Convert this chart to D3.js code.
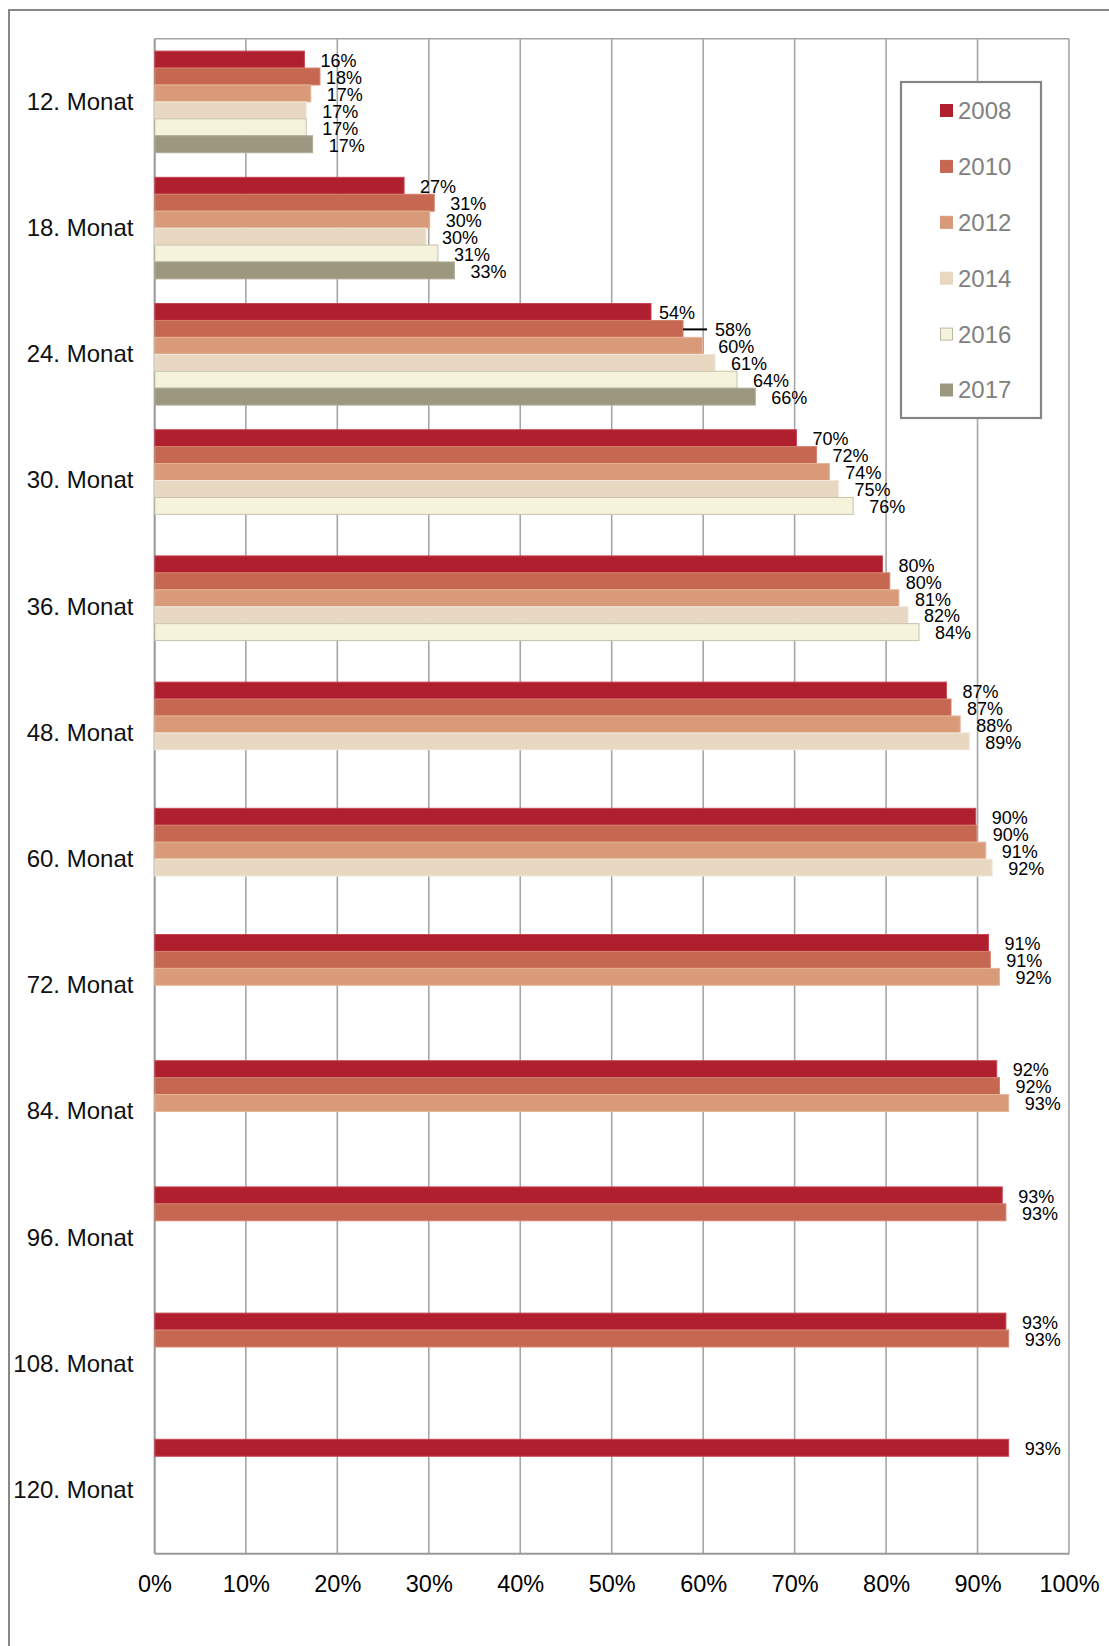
<!DOCTYPE html>
<html>
<head>
<meta charset="utf-8">
<script src="https://cdn.jsdelivr.net/npm/d3@7"></script>
<style>
  html, body { margin: 0; padding: 0; background: #fff; }
  svg { display: block; font-family: "Liberation Sans", Arial, sans-serif; }
</style>
</head>
<body>
<svg id="chart" width="1109" height="1646"></svg>
<script>
// Share reached after N months, by cohort year (in %)
const categories = ["12. Monat", "18. Monat", "24. Monat", "30. Monat", "36. Monat", "48. Monat",
                    "60. Monat", "72. Monat", "84. Monat", "96. Monat", "108. Monat", "120. Monat"];
const seriesNames = ["2008", "2010", "2012", "2014", "2016", "2017"];

const values2008 = [16.4, 27.3, 54.3, 70.2, 79.6, 86.6, 89.8, 91.2, 92.1, 92.7, 93.1, 93.4];
const values2010 = [18.1, 30.6, 57.8, 72.4, 80.4, 87.1, 89.9, 91.4, 92.4, 93.1, 93.4, null];
const values2012 = [17.1, 30.1, 59.9, 73.8, 81.4, 88.1, 90.9, 92.4, 93.4, null, null, null];
const values2014 = [16.6, 29.7, 61.3, 74.8, 82.4, 89.1, 91.6, null, null, null, null, null];
const values2016 = [16.6, 31.0, 63.7, 76.4, 83.6, null, null, null, null, null, null, null];
const values2017 = [17.3, 32.8, 65.7, null, null, null, null, null, null, null, null, null];

const xTicks = [0, 10, 20, 30, 40, 50, 60, 70, 80, 90, 100];

const seriesValues = [values2008, values2010, values2012, values2014, values2016, values2017];
const fills   = ["#B01F2E", "#C66752", "#D99A79", "#E8D8C1", "#F6F3DC", "#9C9880"];
const strokes = ["#C44652", "#D4826F", "#E6B497", "#F1E8DA", "#C6C3AB", "#B0AC96"];

const svg = d3.select("#chart");

// outer frame (runs off the right and bottom edges)
svg.append("rect")
  .attr("x", 9).attr("y", 10).attr("width", 1300).attr("height", 1800)
  .attr("fill", "none").attr("stroke", "#878787").attr("stroke-width", 2);

const plot = { left: 154.4, right: 1069, top: 38.8, bottom: 1553.2 };

const x = d3.scaleLinear().domain([0, 100]).range([plot.left, plot.right]);
const y = d3.scaleBand().domain(categories).range([plot.top, plot.bottom]).padding(0);
const ySub = d3.scaleBand().domain(seriesNames).range([0, y.bandwidth()])
  .paddingInner(0).paddingOuter(0.727);

const gridColor = "#A6A6A6";

// vertical gridlines
svg.append("g").selectAll("line")
  .data(xTicks)
  .join("line")
  .attr("x1", d => x(d)).attr("x2", d => x(d))
  .attr("y1", plot.top).attr("y2", plot.bottom)
  .attr("stroke", gridColor).attr("stroke-width", 1.6);

// plot area top edge
svg.append("line")
  .attr("x1", plot.left).attr("x2", plot.right)
  .attr("y1", plot.top).attr("y2", plot.top)
  .attr("stroke", gridColor).attr("stroke-width", 1.6);

// x axis
const xAxis = d3.axisBottom(x).tickValues(xTicks).tickSize(0).tickFormat(d => d + "%");
const gx = svg.append("g")
  .attr("transform", `translate(0,${plot.bottom})`)
  .call(xAxis);
gx.select(".domain").attr("stroke", "#999").attr("stroke-width", 2);
gx.selectAll("text")
  .attr("y", 31).attr("dy", "0.35em")
  .attr("font-size", 23.5).attr("fill", "#000")
  .attr("font-family", "Liberation Sans, Arial, sans-serif");

// y axis
const yAxis = d3.axisLeft(y).tickSize(0);
const gy = svg.append("g")
  .attr("transform", `translate(${plot.left},0)`)
  .call(yAxis);
gy.select(".domain").attr("stroke", "#999").attr("stroke-width", 1.6);
gy.selectAll("text")
  .attr("x", -21).attr("dy", "0.33em")
  .attr("font-size", 24).attr("fill", "#111")
  .attr("font-family", "Liberation Sans, Arial, sans-serif");

// flatten into bar records
const bars = [];
seriesNames.forEach((s, si) => {
  categories.forEach((c, ci) => {
    const v = seriesValues[si][ci];
    if (v != null) bars.push({ cat: c, series: s, si, value: v });
  });
});

// bars
svg.append("g").selectAll("rect")
  .data(bars)
  .join("rect")
  .attr("x", x(0) + 0.5)
  .attr("y", d => y(d.cat) + ySub(d.series))
  .attr("width", d => x(d.value) - x(0) - 0.5)
  .attr("height", ySub.bandwidth())
  .attr("fill", d => fills[d.si])
  .attr("stroke", d => strokes[d.si])
  .attr("stroke-width", 1);

// data labels; a few were shifted by hand to keep them clear of each other
const labelGap = 16;
const labelShift = { "12. Monat|2010": -10, "24. Monat|2008": -8, "24. Monat|2010": 16 };
const labels = svg.append("g");
bars.forEach(d => {
  const key = d.cat + "|" + d.series;
  const shift = labelShift[key] || 0;
  const yc = y(d.cat) + ySub(d.series) + ySub.bandwidth() / 2;
  const xe = x(d.value);
  if (shift > 0) {
    // leader line to a displaced label
    labels.append("line")
      .attr("x1", xe).attr("x2", xe + labelGap + shift - 8)
      .attr("y1", yc + 0.5).attr("y2", yc + 0.5)
      .attr("stroke", "#000").attr("stroke-width", 2);
  }
  labels.append("text")
    .attr("x", xe + labelGap + shift)
    .attr("y", yc + 1)
    .attr("dy", "0.35em")
    .attr("font-size", 18)
    .attr("fill", "#000")
    .text(d3.format(".0f")(d.value) + "%");
});

// legend
const legend = { x: 901, y: 82, w: 140, h: 336 };
svg.append("rect")
  .attr("x", legend.x).attr("y", legend.y)
  .attr("width", legend.w).attr("height", legend.h)
  .attr("fill", "#fff").attr("stroke", "#858585").attr("stroke-width", 2.2);

const legendY = d3.scalePoint().domain(seriesNames).range([110.5, 390]);
const lg = svg.append("g").selectAll("g")
  .data(seriesNames)
  .join("g")
  .attr("transform", d => `translate(940,${legendY(d)})`);
lg.append("rect")
  .attr("x", 0.5).attr("y", -6).attr("width", 12).attr("height", 12)
  .attr("fill", (d, i) => fills[i])
  .attr("stroke", (d, i) => i === 4 ? "#BDBAA2" : fills[i]).attr("stroke-width", 1);
lg.append("text")
  .attr("x", 18).attr("y", 0).attr("dy", "0.35em")
  .attr("font-size", 24).attr("fill", "#808080")
  .text(d => d);
</script>
</body>
</html>
